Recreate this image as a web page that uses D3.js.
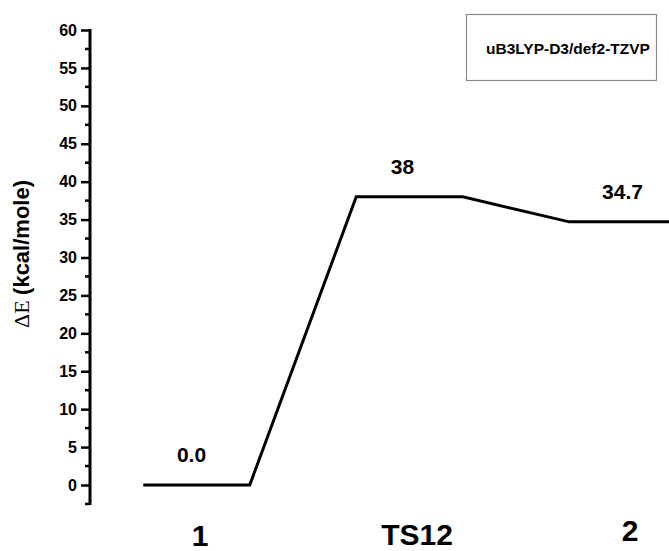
<!DOCTYPE html>
<html>
<head>
<meta charset="utf-8">
<script src="https://cdn.jsdelivr.net/npm/d3@7"></script>
<style>
  html, body { margin: 0; padding: 0; background: #fff; }
  svg { display: block; }
  .ytick-label { font-family: 'Liberation Sans', Arial, sans-serif; font-weight: bold; font-size: 16px; }
</style>
</head>
<body>
<svg id="chart" width="669" height="551"></svg>
<script>
// Reaction profile: relative energies of the stationary points
const states = ["1", "TS12", "2"];
const energies = [0.0, 38, 34.7];
const energyLabels = ["0.0", "38", "34.7"];
const majorTicks = [0, 5, 10, 15, 20, 25, 30, 35, 40, 45, 50, 55, 60];
const minorTicks = [-2.5, 2.5, 7.5, 12.5, 17.5, 22.5, 27.5, 32.5, 37.5, 42.5, 47.5, 52.5, 57.5];
const methodLabel = "uB3LYP-D3/def2-TZVP";

const svg = d3.select("#chart");
const sans = "'Liberation Sans', Arial, sans-serif";
const serif = "'Liberation Serif', 'Times New Roman', serif";

const x = d3.scaleLinear().domain([0, 2]).range([196.5, 622.5]);
const y = d3.scaleLinear().domain([0, 60]).range([485, 30]);
const axisX = 90;
const halfWidth = 0.25;

// Energy level path: a flat segment for each state, joined by slanted connectors
const pts = [];
energies.forEach((e, i) => {
  pts.push([i - halfWidth, e]);
  pts.push([i + halfWidth, e]);
});
const line = d3.line().x(d => x(d[0])).y(d => y(d[1]));
svg.append("path")
  .attr("d", line(pts))
  .attr("fill", "none")
  .attr("stroke", "#000")
  .attr("stroke-width", 3)
  .attr("stroke-linejoin", "miter");

// Y axis with major labelled ticks
const yAxis = d3.axisLeft(y)
  .tickValues(majorTicks)
  .tickSize(9)
  .tickPadding(4)
  .tickFormat(d3.format("d"));
const gy = svg.append("g")
  .attr("transform", `translate(${axisX},0)`)
  .call(yAxis);
gy.attr("font-size", 16).attr("font-family", sans);
gy.select(".domain").remove();
gy.selectAll(".tick line").attr("stroke", "#000").attr("stroke-width", 2.5);
gy.selectAll(".tick text")
  .attr("class", "ytick-label")
  .attr("font-size", 16)
  .attr("font-weight", "bold")
  .attr("fill", "#000");

// Minor ticks
gy.selectAll(".minor")
  .data(minorTicks)
  .enter().append("line")
  .attr("class", "minor")
  .attr("x1", -5).attr("x2", 0)
  .attr("y1", d => y(d)).attr("y2", d => y(d))
  .attr("stroke", "#000").attr("stroke-width", 2.5);

// Axis spine
gy.append("line")
  .attr("x1", 0).attr("x2", 0)
  .attr("y1", y(60) - 1).attr("y2", y(-2.5) + 1)
  .attr("stroke", "#000").attr("stroke-width", 3);

// Y axis title
const title = svg.append("text")
  .attr("transform", "translate(29,254) rotate(-90)")
  .attr("text-anchor", "middle")
  .attr("font-size", 22)
  .attr("fill", "#000");
title.append("tspan").attr("font-family", serif).text("\u0394E ");
title.append("tspan").attr("font-family", sans).attr("font-weight", "bold").text("(kcal/mole)");

// Energy value labels above each level
const valueDx = [-5, -7, 0];
svg.selectAll(".val")
  .data(energies)
  .enter().append("text")
  .attr("class", "val")
  .attr("x", (d, i) => x(i) + valueDx[i])
  .attr("y", d => y(d) - 23)
  .attr("text-anchor", "middle")
  .attr("font-family", sans)
  .attr("font-weight", "bold")
  .attr("font-size", 21)
  .attr("fill", "#000")
  .text((d, i) => energyLabels[i]);

// State names along the bottom
const nameDx = [3.5, 7.5, 7.5];
const nameY = [546, 545, 541];
svg.selectAll(".state")
  .data(states)
  .enter().append("text")
  .attr("class", "state")
  .attr("x", (d, i) => x(i) + nameDx[i])
  .attr("y", (d, i) => nameY[i])
  .attr("text-anchor", "middle")
  .attr("font-family", sans)
  .attr("font-weight", "bold")
  .attr("font-size", 30)
  .attr("fill", "#000")
  .text(d => d);

// Method box
svg.append("rect")
  .attr("x", 466.5).attr("y", 14.5)
  .attr("width", 190).attr("height", 66)
  .attr("fill", "#fff")
  .attr("stroke", "#8a8a8a")
  .attr("stroke-width", 1.2);
svg.append("text")
  .attr("x", 486).attr("y", 54)
  .attr("font-family", sans)
  .attr("font-weight", "bold")
  .attr("font-size", 15.5)
  .attr("fill", "#000")
  .text(methodLabel);
</script>
</body>
</html>
